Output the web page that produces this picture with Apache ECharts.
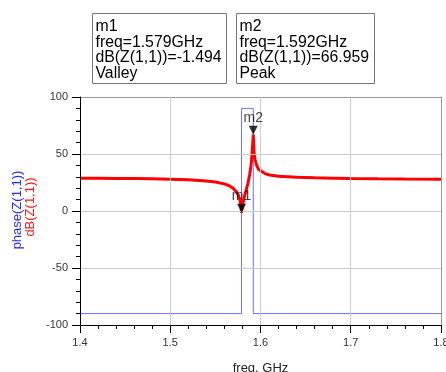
<!DOCTYPE html>
<html>
<head>
<meta charset="utf-8">
<script src="https://cdn.jsdelivr.net/npm/echarts@6/dist/echarts.min.js"></script>
<style>
  html, body { margin: 0; padding: 0; background: #fff; }
  #chart { width: 446px; height: 372px; }
</style>
</head>
<body>
<div id="chart"></div>
<script>
// dB(Z(1,1)), dense near the resonance
const dbFreq = [1.400, 1.420, 1.440, 1.460, 1.480, 1.500, 1.520, 1.540, 1.550, 1.560,
  1.565, 1.570, 1.573, 1.575, 1.577, 1.578, 1.579, 1.580, 1.582, 1.584,
  1.586, 1.588, 1.589, 1.590, 1.591, 1.592, 1.593, 1.594, 1.596, 1.598,
  1.600, 1.605, 1.610, 1.620, 1.640, 1.660, 1.680, 1.700, 1.730, 1.760, 1.800];
const dbValues = [28.8, 28.7, 28.6, 28.4, 28.2, 27.9, 27.4, 26.4, 25.5, 23.8,
  22.3, 19.8, 17.2, 14.6, 10.5, 6.5, -1.494, 5.0, 12.0, 18.0,
  24.0, 32.0, 37.0, 44.0, 54.0, 66.959, 50.0, 45.0, 39.5, 36.5,
  34.8, 32.8, 31.6, 30.4, 29.6, 29.1, 28.8, 28.5, 28.2, 28.0, 27.8];

// phase(Z(1,1)) steps
const phaseFreq = [1.400, 1.579, 1.579, 1.592, 1.592, 1.800];
const phaseValues = [-90, -90, 90, 90, -90, -90];

// markers
const markerNames = ["m1", "m2"];
const markerFreq = [1.579, 1.592];
const markerValues = [-1.494, 66.959];
const markerText = [
  "m1\nfreq=1.579GHz\ndB(Z(1,1))=-1.494\nValley",
  "m2\nfreq=1.592GHz\ndB(Z(1,1))=66.959\nPeak"
];

const font = '"Liberation Sans", Arial, Helvetica, sans-serif';

const chart = echarts.init(document.getElementById("chart"));

const markerBox = (x, w, text) => ({
  type: "group",
  left: x,
  top: 13,
  children: [
    { type: "rect", shape: { x: 0, y: 0, width: w, height: 70 },
      style: { fill: "#fff", stroke: "#777", lineWidth: 1 } },
    { type: "text", x: 3, y: 5,
      style: { text, fill: "#000", font: "15.8px " + font, lineHeight: 15.8 } }
  ]
});

// plain gray frame lines for the top and right edges
const frameAxis = {
  axisLine: { show: true, onZero: false, lineStyle: { color: "#999", width: 1 } },
  axisTick: { show: false },
  axisLabel: { show: false },
  splitLine: { show: false }
};

chart.setOption({
  animation: false,
  backgroundColor: "#fff",
  grid: { left: 80, right: 5, top: 97, bottom: 47, outerBoundsMode: "none" },
  graphic: [
    markerBox(92, 134, markerText[0]),
    markerBox(236, 138, markerText[1]),
    { type: "text", x: 17, y: 210, rotation: Math.PI / 2,
      style: { text: "phase(Z(1,1))", fill: "#2a2aff", font: "13px " + font, align: "center", verticalAlign: "middle" } },
    { type: "text", x: 30, y: 207, rotation: Math.PI / 2,
      style: { text: "dB(Z(1,1))", fill: "#ff1a1a", font: "13px " + font, align: "center", verticalAlign: "middle" } }
  ],
  xAxis: [
    {
      type: "value",
      min: 1.4,
      max: 1.8,
      interval: 0.1,
      name: "freq, GHz",
      nameLocation: "middle",
      nameGap: 37,
      nameTextStyle: { color: "#222", fontSize: 13, fontFamily: font },
      axisLine: { show: true, onZero: false, lineStyle: { color: "#000", width: 1 } },
      axisTick: { show: true, length: 8, lineStyle: { color: "#000", width: 1 } },
      minorTick: { show: true, splitNumber: 5, length: 4, lineStyle: { color: "#000", width: 1 } },
      axisLabel: { color: "#333", fontSize: 11, fontFamily: font, margin: 12,
        formatter: v => v.toFixed(1), showMaxLabel: true },
      splitLine: { show: true, showMinLine: false, showMaxLine: false, lineStyle: { color: "#ccc" } },
      z: 4
    },
    Object.assign({ type: "value", position: "top", min: 1.4, max: 1.8 }, frameAxis)
  ],
  yAxis: [
    {
      type: "value",
      min: -100,
      max: 100,
      interval: 50,
      axisLine: { show: true, onZero: false, lineStyle: { color: "#000", width: 1 } },
      axisTick: { show: true, length: 8, lineStyle: { color: "#000", width: 1 } },
      minorTick: { show: true, splitNumber: 5, length: 4, lineStyle: { color: "#000", width: 1 } },
      axisLabel: { color: "#333", fontSize: 11, fontFamily: font, margin: 12 },
      splitLine: { show: true, showMinLine: false, showMaxLine: false, lineStyle: { color: "#ccc" } },
      z: 4
    },
    Object.assign({ type: "value", position: "right", min: -100, max: 100 }, frameAxis)
  ],
  series: [
    {
      name: "phase",
      type: "line",
      data: phaseFreq.map((f, i) => [f, phaseValues[i]]),
      showSymbol: false,
      lineStyle: { color: "#6e6eff", width: 1 },
      z: 2
    },
    {
      name: "dB",
      type: "line",
      data: dbFreq.map((f, i) => [f, dbValues[i]]),
      showSymbol: false,
      lineStyle: { color: "#ff0000", width: 3 },
      z: 3
    },
    {
      name: "markers",
      type: "scatter",
      data: markerNames.map((n, i) => ({ name: n, value: [markerFreq[i], markerValues[i]] })),
      symbol: "triangle",
      symbolRotate: 180,
      symbolSize: [9, 9],
      symbolOffset: [0, "-50%"],
      itemStyle: { color: "#000" },
      label: { show: true, position: "top", distance: 1, formatter: p => p.name,
        color: "#111", fontSize: 14, fontFamily: font },
      z: 5
    }
  ]
});
</script>
</body>
</html>
